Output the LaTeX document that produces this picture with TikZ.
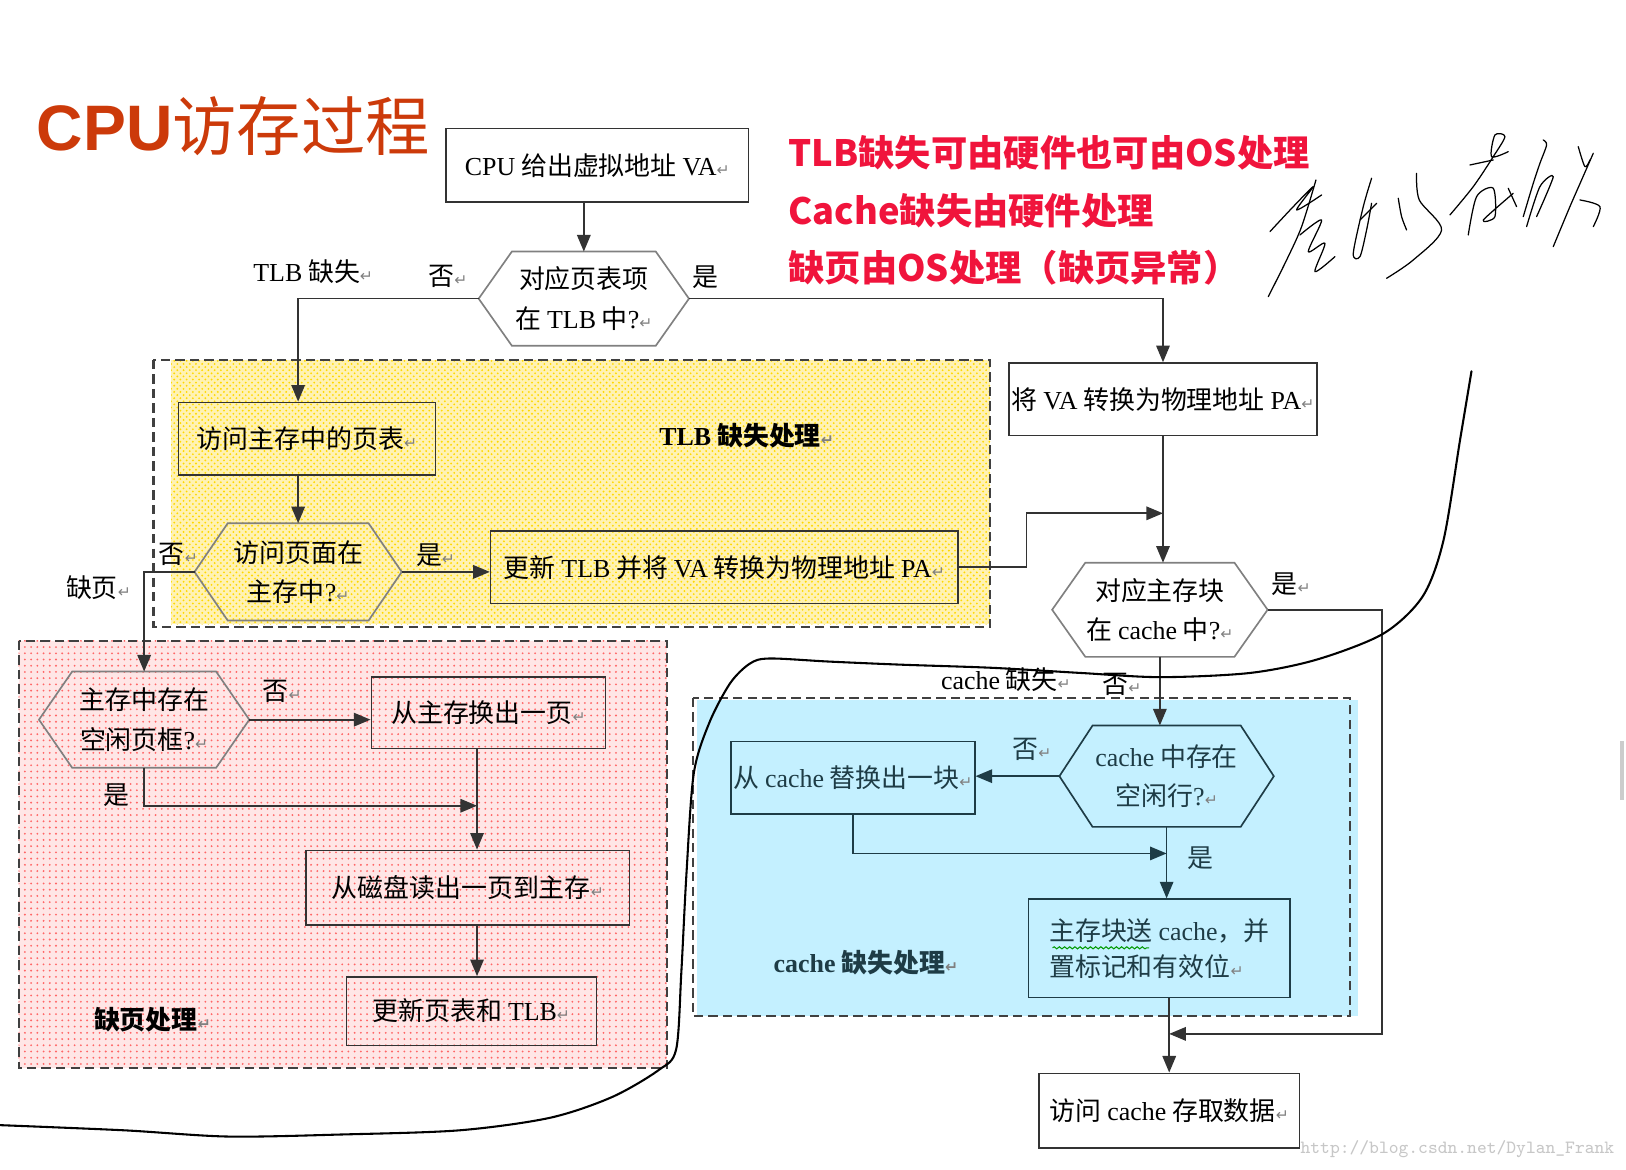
\documentclass[tikz,border=0pt]{standalone}
\usepackage{fontspec}
\setmainfont{Noto Sans CJK SC}
\newfontfamily\ltn{Liberation Serif}
\newfontfamily\arl{Liberation Sans}
\newfontfamily\djv{DejaVu Sans}
\usetikzlibrary{arrows.meta,patterns,decorations.pathmorphing}
\definecolor{titlered}{HTML}{CC3A0A}
\definecolor{notered}{HTML}{F0143C}
\definecolor{tlbfill}{HTML}{FFF2B4}
\definecolor{pagefill}{HTML}{FFE6E6}
\definecolor{cachefill}{HTML}{C4F0FF}
\definecolor{cacheline}{HTML}{1E3C46}
\newcommand\crt{{\djv\fontsize{7.5}{7.5}\selectfont\color{gray}↵}}
\newcommand\hexdraw[2][]{\draw[hexline,#1] ([xshift=16pt]#2.north west) -- ([xshift=-16pt]#2.north east) -- (#2.east)
  -- ([xshift=-16pt]#2.south east) -- ([xshift=16pt]#2.south west) -- (#2.west) -- cycle;}

\begin{document}
\begin{tikzpicture}[x=50pt,y=-50pt,
  box/.style={draw=black!80,line width=0.7pt,inner sep=0pt,align=center,font=\fontsize{12.5}{19}\selectfont},
  hexn/.style={inner sep=0pt,align=center,font=\fontsize{12.5}{19}\selectfont},
  hexline/.style={draw=black!50,line width=0.8pt},
  conn/.style={draw=black!80,line width=0.8pt},
  arr/.style={conn,-{Triangle[length=8pt,width=6.5pt]}},
  lbl/.style={inner sep=1pt,font=\fontsize{12.5}{15}\selectfont},
  zone/.style={draw=black!75,line width=1pt,dash pattern=on 4.5pt off 2.5pt},
  note/.style={anchor=west,inner sep=0pt,text=notered,font=\fontsize{17.5}{20}\selectfont\bfseries},
  sig/.style={line width=0.6pt,line cap=round,line join=round}]
\useasboundingbox (0,0) rectangle (15.68,11.28);

% shaded zones
\fill[tlbfill] (1.65,3.47) rectangle (9.55,6.02);
\fill[pattern=crosshatch dots,pattern color=yellow!70!orange] (1.65,3.47) rectangle (9.55,6.02);
\draw[zone] (1.48,3.47) rectangle (9.55,6.05);
\fill[pagefill] (0.18,6.18) rectangle (6.43,10.30);
\fill[pattern=dots,pattern color=red!60] (0.18,6.18) rectangle (6.43,10.30);
\draw[zone] (0.18,6.18) rectangle (6.43,10.30);
\fill[cachefill] (6.72,6.75) rectangle (13.10,9.80);
\draw[zone] (6.68,6.73) rectangle (13.02,9.80);

% title and notes
\node[text=titlered,font=\fontsize{31}{31}\selectfont,inner sep=0pt] (title) at (2.25,1.22) {{\arl\bfseries CPU}访存过程};
\node[note] (note1) at (7.60,1.47) {TLB缺失可由硬件也可由OS处理};
\node[note] (note2) at (7.60,2.03) {Cache缺失由硬件处理};
\node[note] (note3) at (7.60,2.58) {缺页由OS处理（缺页异常）};

% main flow
\node[box,minimum width=146pt,minimum height=35.5pt] (cpu) at (5.76,1.595) {{\ltn CPU} 给出虚拟地址 {\ltn VA}\crt};
\node[hexn,minimum width=101pt,minimum height=45pt] (tlbq) at (5.63,2.88) {对应页表项\\在 {\ltn TLB} 中{\ltn ?}\crt};
\hexdraw{tlbq}
\node[box,minimum width=148.5pt,minimum height=35pt] (topa) at (11.215,3.85) {将 {\ltn VA} 转换为物理地址 {\ltn PA}\crt};
\node[box,minimum width=124pt,minimum height=35pt] (ptab) at (2.96,4.23) {访问主存中的页表\crt};
\node[hexn,minimum width=99.5pt,minimum height=46.5pt] (inmem) at (2.875,5.515) {访问页面在\\主存中{\ltn ?}\crt};
\hexdraw{inmem}
\node[box,minimum width=225.5pt,minimum height=35pt] (updtlb) at (6.985,5.47) {更新 {\ltn TLB} 并将 {\ltn VA} 转换为物理地址 {\ltn PA}\crt};
\node[hexn,minimum width=103.5pt,minimum height=45pt] (incache) at (11.185,5.88) {对应主存块\\在 {\ltn cache} 中{\ltn ?}\crt};
\hexdraw{incache}

% cache miss
\node[hexn,text=cacheline,minimum width=103pt,minimum height=48.5pt] (freeline) at (11.25,7.485) {{\ltn cache} 中存在\\空闲行{\ltn ?}\crt};
\hexdraw[draw=cacheline]{freeline}
\node[box,draw=cacheline,text=cacheline,minimum width=117.5pt,minimum height=35pt] (repl) at (8.225,7.5) {从 {\ltn cache} 替换出一块\crt};
\node[box,draw=cacheline,text=cacheline,align=left,font=\fontsize{12.5}{17.5}\selectfont,minimum width=126pt,minimum height=47.5pt] (load) at (11.18,9.145) {主存块送 {\ltn cache}，并\\置标记和有效位\crt};
\node[box,minimum width=125.5pt,minimum height=36pt] (access) at (11.275,10.71) {访问 {\ltn cache} 存取数据\crt};
\draw[green!60!black,line width=0.5pt,decorate,decoration={snake,amplitude=0.5pt,segment length=2.5pt}] (10.15,9.14) -- (11.08,9.14);

% page fault
\node[hexn,minimum width=101pt,minimum height=46pt] (freeframe) at (1.39,6.94) {主存中存在\\空闲页框{\ltn ?}\crt};
\hexdraw{freeframe}
\node[box,minimum width=113pt,minimum height=34.5pt] (evict) at (4.71,6.875) {从主存换出一页\crt};
\node[box,minimum width=156pt,minimum height=36pt] (disk) at (4.51,8.56) {从磁盘读出一页到主存\crt};
\node[box,minimum width=120.5pt,minimum height=33pt] (updpt) at (4.545,9.75) {更新页表和 {\ltn TLB}\crt};

% connectors
\coordinate (bend) at (9.90,4.95);
\coordinate (rtc) at (13.33,9.97);
\coordinate (rlev) at (0,8.23);
\coordinate (ej) at (4.60,7.77);
\draw[arr] (tlbq.north |- cpu.south) -- (tlbq.north);
\draw[arr] (tlbq.west) -| (inmem.north |- ptab.north);
\draw[arr] (tlbq.east) -| (topa.north);
\draw[arr] (inmem.north |- ptab.south) -- (inmem.north);
\draw[arr] (inmem.east) -- (inmem.east -| updtlb.west);
\draw[arr] (updtlb.east) -| (bend) -- (topa.south |- bend);
\draw[arr] (topa.south) -- (topa.south |- incache.north);
\draw[arr] (incache.east) -| (rtc) -- (access.north |- rtc);
\draw[arr] (incache.south) -- (incache.south |- freeline.north);
\draw[arr,draw=cacheline] (freeline.west) -- (freeline.west -| repl.east);
\draw[arr,draw=cacheline] (repl.south) |- (freeline.south |- rlev);
\draw[arr,draw=cacheline] (freeline.south) -- (freeline.south |- load.north);
\draw[arr] (access.north |- load.south) -- (access.north);
\draw[arr] (inmem.west) -| (freeframe.north);
\draw[arr] (freeframe.east) -- (freeframe.east -| evict.west);
\draw[arr] (freeframe.south) |- (ej);
\draw[arr] (ej |- evict.south) -- (ej |- disk.north);
\draw[arr] (ej |- disk.south) -- (ej |- updpt.north);

% labels
\node[lbl] (tlbmiss) at (3.02,2.62) {{\ltn TLB} 缺失\crt};
\node[lbl] (no1) at (4.32,2.67) {否\crt};
\node[lbl] (yes1) at (6.80,2.67) {是};
\node[lbl,font=\fontsize{12.5}{15}\selectfont\bfseries] (tlbzone) at (7.20,4.20) {{\ltn\bfseries TLB} 缺失处理\crt};
\node[lbl] (no2) at (1.72,5.35) {否\crt};
\node[lbl] (yes2) at (4.20,5.35) {是\crt};
\node[lbl] (pgfault) at (0.95,5.67) {缺页\crt};
\node[lbl] (yes3) at (12.45,5.63) {是\crt};
\node[lbl] (cmiss) at (9.70,6.55) {{\ltn cache} 缺失\crt};
\node[lbl] (no3) at (10.82,6.60) {否\crt};
\node[lbl,text=cacheline] (no4) at (9.95,7.23) {否\crt};
\node[lbl,text=cacheline] (yes4) at (11.58,8.28) {是};
\node[lbl,text=cacheline,font=\fontsize{12.5}{15}\selectfont\bfseries] (czone) at (8.35,9.28) {{\ltn\bfseries cache} 缺失处理\crt};
\node[lbl] (no5) at (2.72,6.67) {否\crt};
\node[lbl] (yes5) at (1.12,7.67) {是};
\node[lbl,font=\fontsize{12.5}{15}\selectfont\bfseries] (pzone) at (1.47,9.83) {缺页处理\crt};
\node[anchor=east,text=black!22,font=\ttfamily\fontsize{9}{9}\selectfont,inner sep=0pt] (wm) at (15.57,11.08) {http://blog.csdn.net/Dylan\_Frank};
\fill[black!20] (15.62,7.15) rectangle (15.66,7.71);

% hand drawn curve
\draw[line width=1pt,line cap=round] plot[smooth] coordinates {(0,10.85) (1.20,10.90) (2.20,10.96) (3.30,10.94)
  (4.43,10.90) (5.30,10.78) (5.90,10.58) (6.35,10.32) (6.52,10.12) (6.57,9.38) (6.62,8.42) (6.69,7.46) (6.84,6.97)
  (7.04,6.59) (7.23,6.40) (7.42,6.35) (8.00,6.38) (8.70,6.41) (9.57,6.44) (10.43,6.49) (11.19,6.53) (12.05,6.49)
  (12.70,6.36) (13.34,6.11) (13.72,5.75) (13.92,5.21) (14.08,4.24) (14.19,3.58)};

% signature
\begin{scope}[shift={(12.15,1.157)},x=0.1607pt,y=-0.1607pt]
\draw[sig] plot[smooth] coordinates {(25,530) (80,420) (125,320) (168,180)};
\draw[sig] plot[smooth] coordinates {(30,335) (100,260) (160,200) (110,270) (185,225)};
\draw[sig] plot[smooth] coordinates {(120,345) (185,300) (145,395) (195,370) (165,455) (225,410)};
\draw[sig] plot[smooth] coordinates {(335,175) (310,260) (280,400) (300,410) (320,330) (335,250)};
\draw[sig] (300,300) -- (350,250);
\draw[sig] plot[smooth] coordinates {(415,235) (425,290) (440,330)};
\draw[sig] plot[smooth] coordinates {(470,160) (478,240) (545,330) (460,420) (380,475)};
\draw[sig] plot[smooth] coordinates {(570,285) (640,200) (700,110) (735,50) (705,45) (695,110) (745,95)};
\draw[sig] (630,135) -- (700,120);
\draw[sig] plot[smooth] coordinates {(625,345) (650,230) (700,205) (705,290) (670,300) (760,220)};
\draw[sig] (745,205) -- (770,260);
\draw[sig] plot[smooth] coordinates {(790,290) (820,190) (840,130) (860,75) (850,60)};
\draw[sig] plot[smooth] coordinates {(800,320) (840,200) (880,170) (830,290)};
\draw[sig] plot[smooth] coordinates {(880,380) (930,260) (965,180) (1000,100)};
\draw[sig] plot[smooth] coordinates {(960,240) (1020,260) (1000,320)};
\draw[sig] plot[smooth] coordinates {(955,80) (975,140) (990,120)};
\end{scope}
\end{tikzpicture}
\end{document}
